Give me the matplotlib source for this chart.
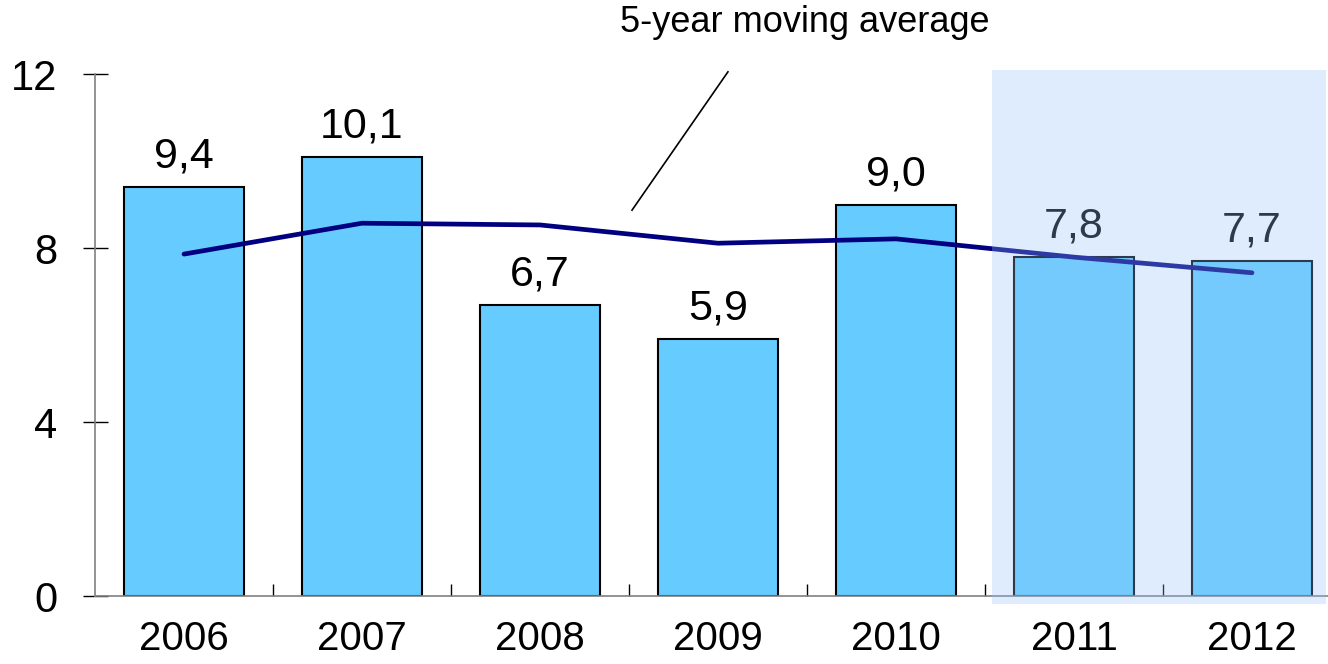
import numpy as np
import matplotlib
matplotlib.use('Agg')
import matplotlib.pyplot as plt
from matplotlib.patches import Rectangle

plt.rcParams['font.family'] = ['Liberation Sans', 'DejaVu Sans']

years = ['2006', '2007', '2008', '2009', '2010', '2011', '2012']
values = [9.4, 10.1, 6.7, 5.9, 9.0, 7.8, 7.7]
moving_avg = [7.86, 8.57, 8.53, 8.11, 8.21, 7.79, 7.43]
yticks = [0, 4, 8, 12]
forecast_years = ['2011', '2012']

fig = plt.figure(figsize=(13.28, 6.64), dpi=100)
ax = fig.add_axes([95 / 1328, 68 / 664, 1 - 95 / 1328, 522 / 664])

x = np.arange(len(years))
ax.bar(x, values, width=0.67, color='#66CCFF', edgecolor='black', linewidth=1.5, zorder=2)
ax.plot(x, moving_avg, color='#000080', linewidth=3.4, solid_capstyle='round', zorder=3)

for xi, v in zip(x, values):
    ax.annotate(f'{v:.1f}'.replace('.', ','), (xi, v), xytext=(0, 14),
                textcoords='offset points', ha='center', va='baseline',
                fontsize=31, zorder=4)

# label for the moving average with a thin leader line
ax.text(3.49, 12.97, '5-year moving average', ha='center', va='baseline',
        fontsize=26, clip_on=False)
ax.plot([3.056, 2.517], [12.05, 8.87], color='black', linewidth=1.2,
        clip_on=False, zorder=3)

ax.set_xlim(-0.5, 6.427)
ax.set_ylim(0, 12)
ax.set_yticks(yticks)
ax.set_yticklabels([str(t) for t in yticks])
ax.set_xticks(x)
ax.set_xticklabels(years)
ax.set_xticks(x[:-1] + 0.5, minor=True)

for side in ['top', 'right']:
    ax.spines[side].set_visible(False)
for side in ['left', 'bottom']:
    ax.spines[side].set_color('#808080')
    ax.spines[side].set_linewidth(1.2)

ax.tick_params(axis='y', direction='inout', length=18, width=1, color='black',
               labelsize=30, pad=18)
ax.tick_params(axis='x', which='major', length=0, labelsize=29, pad=17)
ax.tick_params(axis='x', which='minor', direction='in', length=8.6, width=1,
               color='black')

# shaded block over the forecast years
first = years.index(forecast_years[0])
last = years.index(forecast_years[-1])
ax.add_patch(Rectangle((first - 0.46, -0.18), last - first + 0.876, 12.27,
                       facecolor='#96C3FA', alpha=0.3, edgecolor='none',
                       zorder=5, clip_on=False))

fig.savefig('out.png', dpi=100)
